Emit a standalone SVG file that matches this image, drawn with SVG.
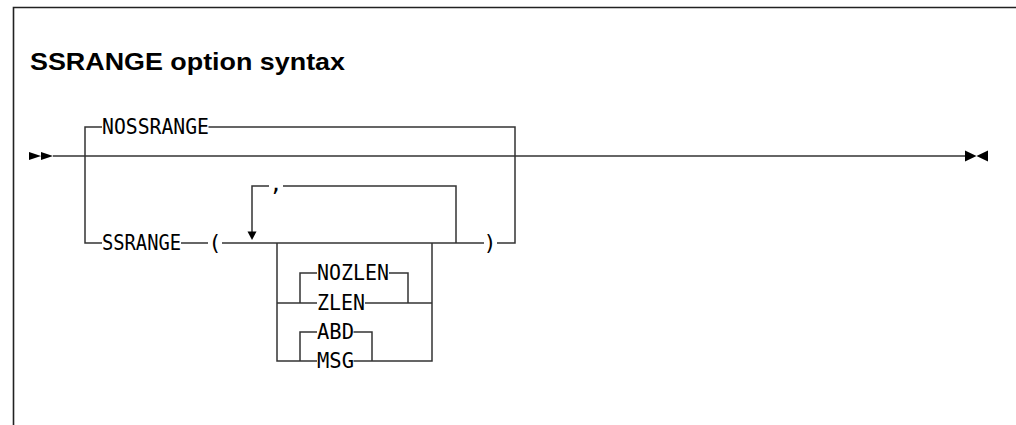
<svg xmlns="http://www.w3.org/2000/svg" width="1016" height="425" viewBox="0 0 1016 425">
<style>
.frame{fill:none;stroke:#222;stroke-width:1.6}
.ln{fill:none;stroke:#333;stroke-width:1.5}
.t{font-family:"DejaVu Sans Mono","Liberation Mono",monospace;font-size:21.5px;fill:#000}
.title{font-family:"Liberation Sans",Arial,sans-serif;font-weight:bold;font-size:24px;fill:#000}
.mk{fill:#000}
</style>
<rect width="1016" height="425" fill="#fff"/>
<g id="frame">
<path class="frame" d="M13.5,425 V7.5 H1016"/>
</g>
<g id="title">
<text class="title" x="30" y="70" textLength="315" lengthAdjust="spacingAndGlyphs">SSRANGE option syntax</text>
</g>
<g id="connectors">
<path class="ln" d="M53,156 H965"/>
<path class="ln" d="M85,156 V127 H102"/>
<path class="ln" d="M208.5,127 H515 V243 H497"/>
<path class="ln" d="M85,156 V243 H102"/>
<path class="ln" d="M181,243 H208"/>
<path class="ln" d="M222,243 H484"/>
<path class="ln" d="M252,232 V186 H269"/>
<path class="ln" d="M283,186 H456 V243"/>
<path class="ln" d="M277,243 V361 H317"/>
<path class="ln" d="M432,243 V361 H353.5"/>
<path class="ln" d="M277,303 H317"/>
<path class="ln" d="M365,303 H432"/>
<path class="ln" d="M300,303 V273 H317"/>
<path class="ln" d="M389,273 H408 V303"/>
<path class="ln" d="M300,361 V332 H317"/>
<path class="ln" d="M353.5,332 H372 V361"/>
</g>
<g id="start">
<path class="mk" d="M29,152 L41,156 L29,160 Z M41,152 L53,156 L41,160 Z"/>
</g>
<g id="end">
<path class="mk" d="M965,150.5 L976.5,156 L965,161.5 Z M988,150.5 L976.5,156 L988,161.5 Z"/>
</g>
<g id="repeat-arrow">
<path class="mk" d="M247.5,231.5 L256.5,231.5 L252,240 Z"/>
</g>
<g id="nossrange"><text class="t" x="102" y="134" textLength="107" lengthAdjust="spacingAndGlyphs">NOSSRANGE</text></g>
<g id="ssrange"><text class="t" x="102" y="250" textLength="79" lengthAdjust="spacingAndGlyphs">SSRANGE</text></g>
<g id="lparen"><text class="t" x="215" y="250" text-anchor="middle">(</text></g>
<g id="rparen"><text class="t" x="490" y="250" text-anchor="middle">)</text></g>
<g id="comma"><text class="t" x="276" y="191" text-anchor="middle">,</text></g>
<g id="nozlen"><text class="t" x="317" y="280" textLength="72" lengthAdjust="spacingAndGlyphs">NOZLEN</text></g>
<g id="zlen"><text class="t" x="317" y="310" textLength="48" lengthAdjust="spacingAndGlyphs">ZLEN</text></g>
<g id="abd"><text class="t" x="317" y="339" textLength="37" lengthAdjust="spacingAndGlyphs">ABD</text></g>
<g id="msg"><text class="t" x="317" y="368" textLength="37" lengthAdjust="spacingAndGlyphs">MSG</text></g>
</svg>
